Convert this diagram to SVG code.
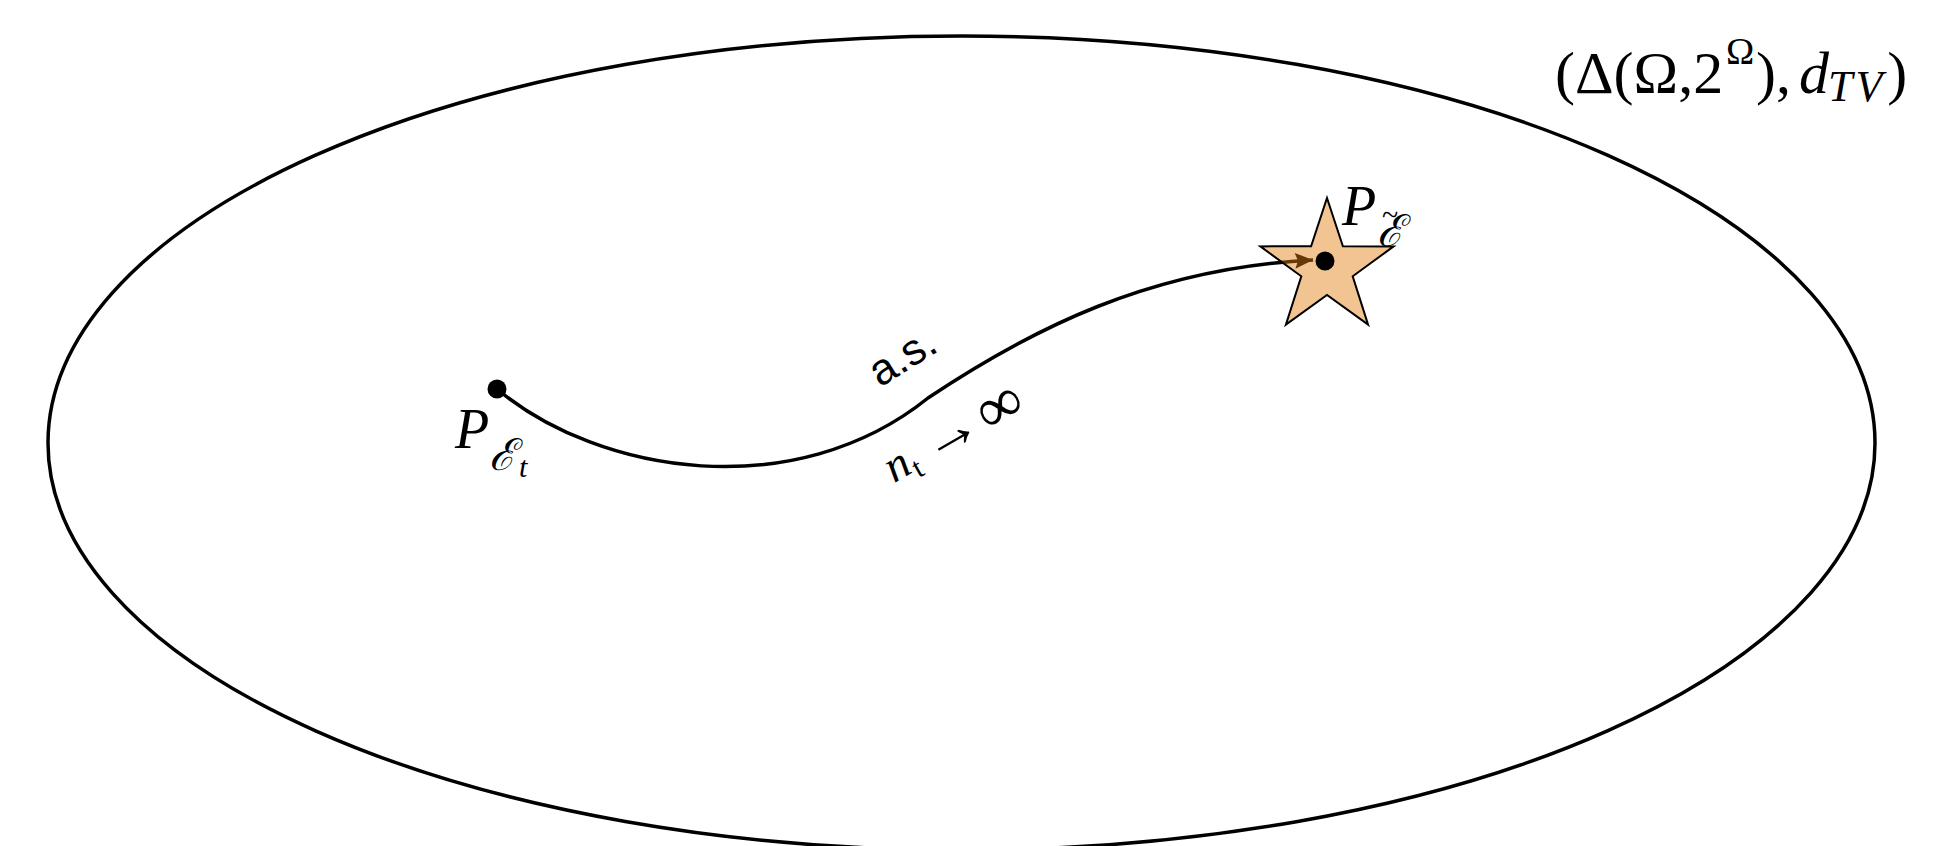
<svg xmlns="http://www.w3.org/2000/svg" width="1933" height="846" viewBox="0 0 1933 846">
<style>
.line{fill:none;stroke:#000;stroke-width:3.5}
.serif{font-family:"Liberation Serif","DejaVu Serif",serif;fill:#000}
.it{font-style:italic}
.sans{font-family:"Liberation Sans","DejaVu Sans",sans-serif;fill:#000}
.dot{fill:#000}
</style>
<defs>
<marker id="head" markerUnits="userSpaceOnUse" markerWidth="22" markerHeight="20" viewBox="0 0 22 20" refX="20" refY="10" orient="auto">
<path d="M2,2 L20,10 L2,18 L5,10 Z" fill="#000"/>
</marker>
</defs>
<rect width="1933" height="846" fill="#fff"/>
<g id="space">
<ellipse cx="961.5" cy="443" rx="913.5" ry="407" class="line" stroke-width="3"/>
<text class="serif" font-size="60" y="93"><tspan x="1555">(Δ(Ω,2</tspan><tspan x="1726" y="64" font-size="38">Ω</tspan><tspan x="1756" y="93">),</tspan><tspan x="1799" class="it">d</tspan><tspan x="1828" y="101" font-size="44" class="it" letter-spacing="3">TV</tspan><tspan dx="2" y="93">)</tspan></text>
</g>
<g id="connectors">
<path class="line" d="M497,389 C600,475 795,505 928,398 C1030,330 1150,268 1313,260" marker-end="url(#head)"/>
</g>
<g id="limit">
<polygon points="1327,198 1342.9,246.2 1393.6,246.4 1352.7,276.3 1368.1,324.6 1327,295 1285.9,324.6 1301.3,276.3 1260.4,246.4 1311.1,246.2" fill="rgb(226,124,11)" fill-opacity="0.45" stroke="#000" stroke-width="2" stroke-linejoin="miter"/>
<circle class="dot" cx="1325" cy="261" r="9.5"/>
<text class="serif it" x="1342" y="225" font-size="56">P</text>
<text class="serif" font-size="44"><tspan class="it" x="1377" y="246">ℰ</tspan><tspan x="1382" y="225" font-size="30">~</tspan></text>
</g>
<g id="start">
<circle class="dot" cx="497" cy="389" r="9.5"/>
<text class="serif it" font-size="56"><tspan x="455" y="448">P</tspan><tspan x="489" y="470" font-size="44">ℰ</tspan><tspan x="519" y="477" font-size="30">t</tspan></text>
</g>
<g id="edge-labels">
<text class="sans" font-size="44" text-anchor="middle" transform="translate(910,369) rotate(-32)">a.s.</text>
<g transform="translate(896,481) rotate(-30)">
<text class="serif it" x="-3" y="1" font-size="46">n</text>
<text class="serif" x="21" y="9" font-size="30">t</text>
<text class="serif" x="40" y="4" font-size="60">→</text>
<text class="serif" x="104" y="7" font-size="64">∞</text>
</g>
</g>
</svg>
